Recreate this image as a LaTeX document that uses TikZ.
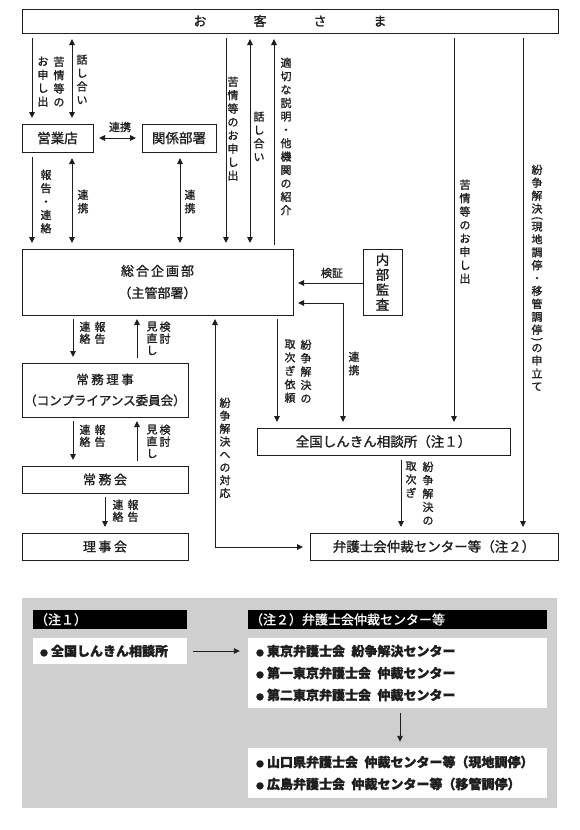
\documentclass[tikz,border=0pt]{standalone}
\usepackage{fontspec}
\setmainfont{Noto Sans CJK JP}[FakeBold=1.2]
\usetikzlibrary{arrows.meta}
\definecolor{notebg}{RGB}{207,207,207}
\definecolor{ink}{RGB}{30,30,30}
\newcommand{\vparen}[1]{\rotatebox[origin=c]{-90}{#1}}
\begin{document}
\begin{tikzpicture}[x=1pt,y=-1pt,
  box/.style={draw=ink, line width=0.9pt, inner sep=0pt, outer sep=0pt, align=center,
    font=\fontsize{13}{22}\selectfont, text=ink},
  vlab/.style={inner sep=0pt, anchor=north, align=center, text=ink,
    font=\fontsize{11}{13.4}\selectfont},
  vlabs/.style={inner sep=0pt, anchor=north, align=center, text=ink,
    font=\fontsize{11}{12}\selectfont},
  hlab/.style={inner sep=0pt, text=ink, font=\fontsize{11}{13}\selectfont},
  arr/.style={draw=ink, line width=0.9pt, -{Triangle[length=6pt,width=5.5pt]},
    shorten <=5pt, shorten >=6pt},
  arrb/.style={draw=ink, line width=0.9pt,
    {Triangle[length=6pt,width=5.5pt]}-{Triangle[length=6pt,width=5.5pt]},
    shorten <=6pt, shorten >=6pt},
  hdr/.style={fill=black, text=white, inner xsep=2pt, inner ysep=0pt, align=left,
    font=\fontsize{13}{15}\selectfont},
  nbox/.style={fill=white, inner ysep=0pt, align=left, text=ink,
    font=\bfseries\fontsize{13}{22}\selectfont}
]
\fill[white] (0,0) rectangle (580,830);
\useasboundingbox (0,0) rectangle (580,830);

% ---------- boxes ----------
\node[box, minimum width=536pt, minimum height=24pt] (okyaku) at (290,21)
  {お\hspace{47pt}客\hspace{47pt}さ\hspace{47pt}ま};
\node[box, minimum width=71pt, minimum height=28pt, font=\fontsize{13.5}{16}\selectfont] (eigyo) at (57.5,138) {営業店};
\node[box, minimum width=74pt, minimum height=28pt, font=\fontsize{13.5}{16}\selectfont] (kankei) at (179,138) {関係部署};
\node[box, minimum width=271pt, minimum height=66pt] (sogo) at (157.5,282)
  {総\kern2pt 合\kern2pt 企\kern2pt 画\kern2pt 部\\（主管部署）};
\node[box, minimum width=39pt, minimum height=66pt, font=\fontsize{13.5}{15}\selectfont] (naibu) at (382.5,282)
  {内\\部\\監\\査};
\node[box, minimum width=166pt, minimum height=54pt, font=\fontsize{12.5}{21}\selectfont] (riji) at (105,390)
  {常\kern2.5pt 務\kern2.5pt 理\kern2.5pt 事\\（コンプライアンス委員会）};
\node[box, minimum width=166pt, minimum height=27pt] (jomukai) at (105,479.5)
  {常\kern2.5pt 務\kern2.5pt 会};
\node[box, minimum width=166pt, minimum height=27pt] (rijikai) at (105,546.5)
  {理\kern2.5pt 事\kern2.5pt 会};
\node[box, minimum width=253pt, minimum height=27pt, font=\fontsize{13.5}{16}\selectfont] (zenkoku) at (383.5,441.5)
  {全国しんきん相談所（注１）};
\node[box, minimum width=248pt, minimum height=27pt, font=\fontsize{13.5}{16}\selectfont] (bengo) at (434,546.5)
  {弁護士会仲裁センター等（注２）};

% ---------- connector x positions ----------
\coordinate (cA) at (32,0);
\coordinate (cB) at (72,0);
\coordinate (cC) at (180,0);
\coordinate (cD) at (226,0);
\coordinate (cE) at (250,0);
\coordinate (cF) at (274,0);
\coordinate (cG) at (454,0);
\coordinate (cH) at (523,0);
\coordinate (cI) at (277,0);
\coordinate (cJ) at (401,0);
\coordinate (cK) at (73,0);
\coordinate (cL) at (137,0);
\coordinate (cM) at (105,0);
\coordinate (cV) at (0,283);
\coordinate (cR) at (343,303);
\coordinate (cT) at (215,547);

% ---------- connectors ----------
\draw[arr] (okyaku.south -| cA) -- (eigyo.north -| cA);
\draw[arrb] (okyaku.south -| cB) -- (eigyo.north -| cB);
\draw[arrb] (eigyo.east) -- (kankei.west);
\draw[arr] (eigyo.south -| cA) -- (sogo.north -| cA);
\draw[arrb] (eigyo.south -| cB) -- (sogo.north -| cB);
\draw[arrb] (kankei.south -| cC) -- (sogo.north -| cC);
\draw[arr] (okyaku.south -| cD) -- (sogo.north -| cD);
\draw[arrb] (okyaku.south -| cE) -- (sogo.north -| cE);
\draw[arr, shorten <=4pt, shorten >=6pt] (sogo.north -| cF) -- (okyaku.south -| cF);
\draw[arr, shorten <=0pt, shorten >=5pt] (naibu.west |- cV) -- (sogo.east |- cV);
\draw[arrb, shorten <=5pt] (sogo.east |- cR) -- (cR) -- (zenkoku.north -| cR);
\draw[arr, shorten <=4pt] (sogo.south -| cI) -- (zenkoku.north -| cI);
\draw[arr] (okyaku.south -| cG) -- (zenkoku.north -| cG);
\draw[arr] (okyaku.south -| cH) -- (bengo.north -| cH);
\draw[arrb, shorten <=4pt, shorten >=7pt] (sogo.south -| cT) -- (cT) -- (bengo.west |- cT);
\draw[arr] (zenkoku.south -| cJ) -- (bengo.north -| cJ);
\draw[arr, shorten <=4pt] (sogo.south -| cK) -- (riji.north -| cK);
\draw[arr, shorten <=5pt, shorten >=4pt] (riji.north -| cL) -- (sogo.south -| cL);
\draw[arr, shorten <=4pt] (riji.south -| cK) -- (jomukai.north -| cK);
\draw[arr, shorten <=5pt, shorten >=4pt] (jomukai.north -| cL) -- (riji.south -| cL);
\draw[arr, shorten <=4pt] (jomukai.south -| cM) -- (rijikai.north -| cM);

% ---------- labels ----------
\node[vlab] (lb1) at (43,56.5) {お\\申\\し\\出};
\node[vlab] (lb2) at (59,56.5) {苦\\情\\等\\の};
\node[vlab] (lb3) at (82,54.5) {話\\し\\合\\い};
\node[hlab] (lb4) at (120,127) {連携};
\node[vlab] (lb5) at (46,169.5) {報\\告\\・\\連\\絡};
\node[vlab] (lb6) at (83,189.5) {連\\携};
\node[vlab] (lb7) at (190,189.5) {連\\携};
\node[vlab] (lb8) at (233,76.5) {苦\\情\\等\\の\\お\\申\\し\\出};
\node[vlab] (lb9) at (259,111.5) {話\\し\\合\\い};
\node[vlab] (lb10) at (286,57.5) {適\\切\\な\\説\\明\\・\\他\\機\\関\\の\\紹\\介};
\node[hlab] (lb11) at (332,273) {検証};
\node[vlab] (lb12) at (354,351.5) {連\\携};
\node[vlab] (lb13) at (290,339.5) {取\\次\\ぎ\\依\\頼};
\node[vlab] (lb14) at (306,339.5) {紛\\争\\解\\決\\の};
\node[vlab] (lb15) at (465,179.5) {苦\\情\\等\\の\\お\\申\\し\\出};
\node[vlab, font=\fontsize{11}{12.9}\selectfont] (lb16) at (537,164.5)
  {紛\\争\\解\\決\\[-3.9pt]\vparen{(}\\[-3.9pt]現\\地\\調\\停\\・\\移\\管\\調\\停\\[-3.9pt]\vparen{)}\\[-3.9pt]の\\申\\立\\て};
\node[vlab, font=\fontsize{11}{12.9}\selectfont] (lb17) at (225,397.5) {紛\\争\\解\\決\\へ\\の\\対\\応};
\node[vlab] (lb18) at (411,461.5) {取\\次\\ぎ};
\node[vlab] (lb19) at (428,461.5) {紛\\争\\解\\決\\の};
\node[vlabs] (lb20) at (85,321.5) {連\\絡};
\node[vlabs] (lb21) at (100,321.5) {報\\告};
\node[vlabs] (lb22) at (152,321.5) {見\\直\\し};
\node[vlabs] (lb23) at (165,321.5) {検\\討};
\node[vlabs] (lb24) at (85,424.5) {連\\絡};
\node[vlabs] (lb25) at (100,424.5) {報\\告};
\node[vlabs] (lb26) at (152,424.5) {見\\直\\し};
\node[vlabs] (lb27) at (165,424.5) {検\\討};
\node[vlabs] (lb28) at (118,499.5) {連\\絡};
\node[vlabs] (lb29) at (133,499.5) {報\\告};

% ---------- notes ----------
\fill[notebg] (22,598) rectangle (557,808);
\node[hdr, text width=150pt, minimum height=19pt] (h1) at (110,619.5) {（注１）};
\node[hdr, text width=295pt, minimum height=19pt] (h2) at (397.5,619.5) {（注２）弁護士会仲裁センター等};
\node[nbox, inner xsep=7pt, text width=140pt, minimum height=26pt] (n1) at (110,651)
  {{\fontsize{8}{8}\selectfont ●}\kern3pt 全国しんきん相談所};
\node[nbox, inner xsep=8pt, text width=283pt, minimum height=70pt] (n2) at (397.5,673)
  {{\fontsize{8}{8}\selectfont ●}\kern3pt 東京弁護士会\hspace{0.5em}紛争解決センター\\
   {\fontsize{8}{8}\selectfont ●}\kern3pt 第一東京弁護士会\hspace{0.5em}仲裁センター\\
   {\fontsize{8}{8}\selectfont ●}\kern3pt 第二東京弁護士会\hspace{0.5em}仲裁センター};
\node[nbox, inner xsep=8pt, text width=283pt, minimum height=50pt] (n3) at (397.5,773)
  {{\fontsize{8}{8}\selectfont ●}\kern3pt 山口県弁護士会\hspace{0.5em}仲裁センター等（現地調停）\\
   {\fontsize{8}{8}\selectfont ●}\kern3pt 広島弁護士会\hspace{0.5em}仲裁センター等（移管調停）};
\coordinate (cN) at (400,0);
\draw[arr, shorten <=6pt, shorten >=8pt] (n1.east) -- (n1.east -| n2.west);
\draw[arr, shorten <=5pt, shorten >=6pt] (n2.south -| cN) -- (n3.north -| cN);
\end{tikzpicture}
\end{document}
